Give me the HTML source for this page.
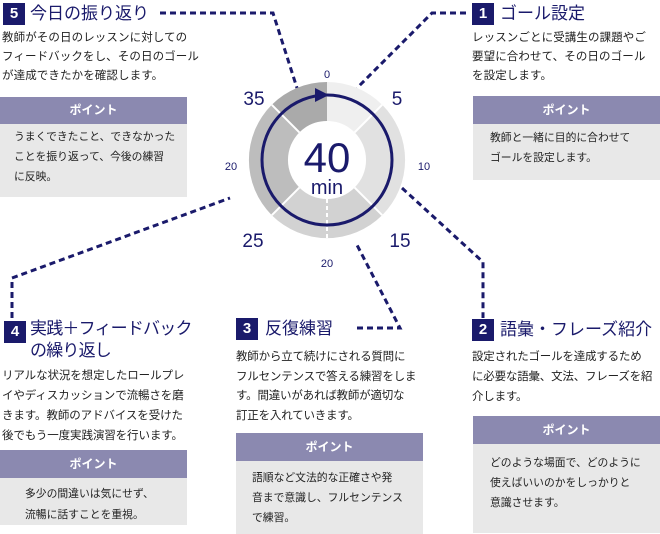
<!DOCTYPE html>
<html><head><meta charset="utf-8"><style>
body{margin:0;width:660px;height:534px;background:#fff;position:relative;overflow:hidden;font-family:"Liberation Sans","Noto Sans CJK JP",sans-serif;color:#222}
.a{position:absolute}
.bd{position:absolute;background:#1a1a6b;color:#fff;font-weight:bold;font-size:15px;width:22px;height:22px;line-height:22px;text-align:center}
.tt{position:absolute;color:#1a1a6b;font-size:17px;line-height:23px;white-space:nowrap}
.tx{position:absolute;font-size:11.5px;letter-spacing:0.1px;white-space:nowrap}
.tp{position:absolute;font-size:10.8px;white-space:nowrap}
.ph{position:absolute;background:#8b89b0;color:#fff;font-weight:bold;font-size:12px;text-align:center}
.pb{position:absolute;background:#e8e8e8}
</style></head><body>
<svg class="a" style="left:0;top:0" width="660" height="534">
<g fill="none" stroke="#1a1a6b" stroke-width="3" stroke-dasharray="6,4">
<polyline points="160,13 273,13 297,88"/>
<polyline points="466,13 432,13 357,88"/>
<polyline points="402,188 483,262 483,318"/>
<polyline points="357,328 400,328 357,245"/>
<polyline points="12,318 12,278 230,198"/>
</g>
<g transform="translate(327,160)">
<path d="M0,-78 A78,78 0 0 1 55.2,-55.2 L27.6,-27.6 A39,39 0 0 0 0,-39Z" fill="#efefef"/>
<path d="M55.2,-55.2 A78,78 0 0 1 55.2,55.2 L27.6,27.6 A39,39 0 0 0 27.6,-27.6Z" fill="#e1e1e1"/>
<path d="M55.2,55.2 A78,78 0 0 1 -55.2,55.2 L-27.6,27.6 A39,39 0 0 0 27.6,27.6Z" fill="#d2d2d2"/>
<path d="M-55.2,55.2 A78,78 0 0 1 -55.2,-55.2 L-27.6,-27.6 A39,39 0 0 0 -27.6,27.6Z" fill="#bdbdbd"/>
<path d="M-55.2,-55.2 A78,78 0 0 1 0,-78 L0,-39 A39,39 0 0 0 -27.6,-27.6Z" fill="#aaaaaa"/>
<g stroke="#fff" stroke-width="2"><line x1="27.6" y1="-27.6" x2="55.2" y2="-55.2"/><line x1="27.6" y1="27.6" x2="55.2" y2="55.2"/><line x1="-27.6" y1="27.6" x2="-55.2" y2="55.2"/><line x1="-27.6" y1="-27.6" x2="-55.2" y2="-55.2"/><line x1="0" y1="39" x2="0" y2="78" stroke-dasharray="4,3"/></g>
<circle r="65" fill="none" stroke="#1a1a6b" stroke-width="3"/>
<path d="M-12,-72 L2,-65 L-12,-58Z" fill="#1a1a6b"/>
<text x="0" y="12" text-anchor="middle" font-family="Liberation Sans,sans-serif" font-size="42" fill="#1a1a6b">40</text>
<text x="0" y="34" text-anchor="middle" font-family="Liberation Sans,sans-serif" font-size="20" fill="#1a1a6b">min</text>
</g>
<g font-family="Liberation Sans,sans-serif" fill="#1a1a6b" text-anchor="middle">
<text x="327" y="78" font-size="11">0</text>
<text x="397" y="105" font-size="19">5</text>
<text x="424" y="170" font-size="11">10</text>
<text x="400" y="247" font-size="19">15</text>
<text x="327" y="267" font-size="11">20</text>
<text x="253" y="247" font-size="19">25</text>
<text x="231" y="170" font-size="11">20</text>
<text x="254" y="105" font-size="19">35</text>
</g>
</svg>

<div class="bd" style="left:3px;top:3px">5</div><div class="tt" style="left:30px;top:2px">今日の振り返り</div>
<div class="tx" style="left:2px;top:29px;line-height:19px">教師がその日のレッスンに対しての<br>フィードバックをし、その日のゴール<br>が達成できたかを確認します。</div>
<div class="ph" style="left:0;top:97px;width:187px;height:27px;line-height:27px">ポイント</div>
<div class="pb" style="left:0;top:124px;width:187px;height:73px"></div>
<div class="tp" style="left:14px;top:127px;line-height:20px">うまくできたこと、できなかった<br>ことを振り返って、今後の練習<br>に反映。</div>

<div class="bd" style="left:472px;top:3px">1</div><div class="tt" style="left:500px;top:2px">ゴール設定</div>
<div class="tx" style="left:472px;top:29px;line-height:19px">レッスンごとに受講生の課題やご<br>要望に合わせて、その日のゴール<br>を設定します。</div>
<div class="ph" style="left:473px;top:96px;width:187px;height:28px;line-height:28px">ポイント</div>
<div class="pb" style="left:473px;top:124px;width:187px;height:56px"></div>
<div class="tp" style="left:490px;top:128px;line-height:20px">教師と一緒に目的に合わせて<br>ゴールを設定します。</div>

<div class="bd" style="left:4px;top:321px">4</div><div class="tt" style="left:30px;top:318px;line-height:22px;letter-spacing:-0.8px">実践＋フィードバック<br>の繰り返し</div>
<div class="tx" style="left:2px;top:366px;line-height:20px;letter-spacing:-0.1px">リアルな状況を想定したロールプレ<br>イやディスカッションで流暢さを磨<br>きます。教師のアドバイスを受けた<br>後でもう一度実践演習を行います。</div>
<div class="ph" style="left:0;top:450px;width:187px;height:28px;line-height:28px">ポイント</div>
<div class="pb" style="left:0;top:478px;width:187px;height:47px"></div>
<div class="tp" style="left:25px;top:484px;line-height:21px">多少の間違いは気にせず、<br>流暢に話すことを重視。</div>

<div class="bd" style="left:236px;top:318px">3</div><div class="tt" style="left:265px;top:317px">反復練習</div>
<div class="tx" style="left:236px;top:348px;line-height:19.5px;letter-spacing:-0.2px">教師から立て続けにされる質問に<br>フルセンテンスで答える練習をしま<br>す。間違いがあれば教師が適切な<br>訂正を入れていきます。</div>
<div class="ph" style="left:236px;top:433px;width:187px;height:28px;line-height:28px">ポイント</div>
<div class="pb" style="left:236px;top:461px;width:187px;height:73px"></div>
<div class="tp" style="left:252px;top:468px;line-height:20px">語順など文法的な正確さや発<br>音まで意識し、フルセンテンス<br>で練習。</div>

<div class="bd" style="left:472px;top:319px">2</div><div class="tt" style="left:500px;top:318px">語彙・フレーズ紹介</div>
<div class="tx" style="left:472px;top:347px;line-height:20px;letter-spacing:-0.2px">設定されたゴールを達成するため<br>に必要な語彙、文法、フレーズを紹<br>介します。</div>
<div class="ph" style="left:473px;top:416px;width:187px;height:28px;line-height:28px">ポイント</div>
<div class="pb" style="left:473px;top:444px;width:187px;height:89px"></div>
<div class="tp" style="left:490px;top:453px;line-height:20px">どのような場面で、どのように<br>使えばいいのかをしっかりと<br>意識させます。</div>
</body></html>
